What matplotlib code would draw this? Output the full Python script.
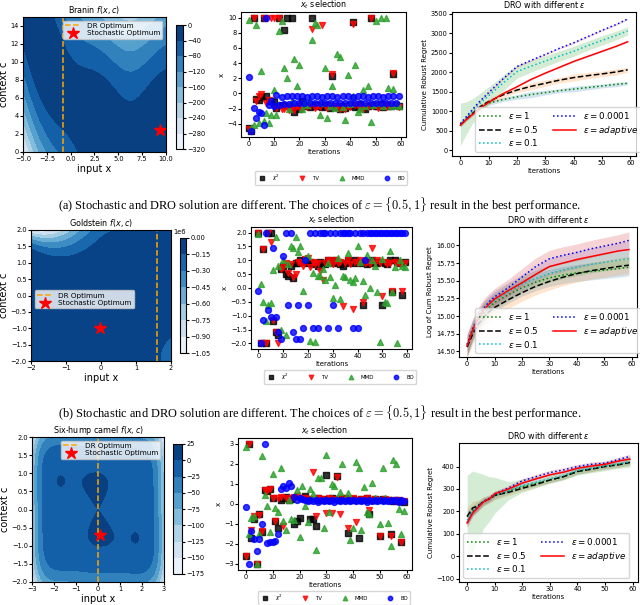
import numpy as np
import matplotlib
matplotlib.use("Agg")
from matplotlib import pyplot as plt

W, H = 640, 605

# ---------------- left column: negated test functions f(x, c) ----------------
def branin(x, c):
    b, cc, t = 5.1 / (4 * np.pi ** 2), 5 / np.pi, 1 / (8 * np.pi)
    return -((c - b * x ** 2 + cc * x - 6) ** 2 + 10 * (1 - t) * np.cos(x) + 10)


def goldstein(x, c):
    p1 = 1 + (x + c + 1) ** 2 * (19 - 14 * x + 3 * x ** 2 - 14 * c + 6 * x * c + 3 * c ** 2)
    p2 = 30 + (2 * x - 3 * c) ** 2 * (18 - 32 * x + 12 * x ** 2 + 48 * c - 36 * x * c + 27 * c ** 2)
    return -(p1 * p2)


def camel(x, c):
    return -((4 - 2.1 * x ** 2 + x ** 4 / 3) * x ** 2 + x * c + (-4 + 4 * c ** 2) * c ** 2)


dr_opt = [-0.8, 1.6, 0.0]
stoch_x = [9.42, -0.03, 0.09]
stoch_c = [2.47, -1.0, -0.71]

# ---------------- middle column: x_t selected per iteration ----------------
iters = np.arange(60)

b_chi2 = [-4.6, -5.0, 10.0, -0.7, -0.9, -0.5, 10.0, -0.4, -1.0, -1.0,
          -1.1, -1.9, 10.0, -1.5, 8.4, 10.0, -1.6, 10.0, -2.4, -1.7,
          -2.0, -1.0, -1.5, -1.6, -1.8, 10.0, -1.7, -1.5, -1.6, -1.8,
          -1.7, -1.5, -1.9, 2.3, -1.6, -1.8, -2.0, -1.7, -1.9, -1.6,
          -1.5, 9.4, -1.8, -1.6, -1.4, -1.8, -2.0, -1.6, 10.0, -1.5,
          -1.7, -1.6, -1.4, -1.8, -1.5, -1.6, -1.7, 2.6, -1.5, -1.6]
b_tv = [-4.7, -4.9, 10.0, -1.0, -0.4, -0.1, 10.0, -1.3, -0.9, 10.0,
        10.0, -1.9, 10.0, -2.1, -2.0, -1.6, -2.2, -1.8, -2.2, -1.7,
        -1.8, -2.0, -1.5, -1.8, -1.7, 8.5, -1.9, -1.6, -1.8, 9.0,
        -1.7, -1.9, -1.6, 2.6, -1.8, -1.7, -2.1, -1.9, -2.0, -1.6,
        -1.8, 9.2, -1.5, -1.7, -1.9, -2.1, -1.6, -1.8, 10.0, -1.7,
        -1.5, -1.9, -1.6, -1.7, -1.8, -1.5, -1.7, 2.7, -1.6, -1.8]
b_mmd = [9.7, -4.5, -4.2, 9.0, -3.9, 3.0, -3.7, -2.6, -3.9, -2.9,
         0.5, -2.8, 8.2, 9.6, 3.3, 2.0, -2.1, -1.0, 4.5, 1.0,
         3.7, -2.1, -1.2, -1.5, -0.9, 7.0, 9.3, 9.1, -2.8, -1.3,
         3.3, -3.2, -1.6, 1.0, -1.9, 5.2, 4.8, -1.8, -3.5, 2.5,
         -1.4, -0.3, 3.7, -2.5, -2.0, 0.5, -1.7, 1.0, -3.8, -1.5,
         9.5, -1.2, 10.0, -1.6, 10.0, 0.7, -1.7, 0.6, -1.5, -1.7]
b_bo = [2.2, -5.0, -1.9, -3.3, -2.5, -2.6, -4.1, 10.0, -1.5, -1.0,
        -1.6, -0.2, -1.5, -0.5, -1.4, -0.4, -1.4, -0.4, -1.3, -0.4,
        -1.3, -0.4, -1.3, -0.5, -1.2, -0.4, -1.3, -0.4, -1.3, -0.5,
        -1.3, -0.4, -1.2, -0.4, -1.3, -0.5, -1.3, -0.4, -1.3, -0.4,
        -1.2, -0.5, -1.3, -0.4, -1.3, -0.4, -1.3, -0.5, -1.2, -0.4,
        -1.3, -0.4, -1.3, -0.5, -1.3, -0.4, -1.2, -0.4, -1.3, -0.4]

g_chi2 = [2.0, -2.0, 1.4, -2.0, 2.0, 2.0, -1.2, -1.6, -1.7, 0.7,
          0.8, 0.5, 0.45, 0.8, 0.35, 0.9, 0.9, 1.0, 0.95, 1.0,
          0.9, 0.95, 0.85, 0.9, 0.8, 0.95, 0.9, 0.85, 1.0, 0.95,
          0.9, 1.0, 0.95, 0.85, 0.8, 0.9, 1.0, 0.95, 0.9, 1.0,
          0.95, 0.9, -0.6, 0.95, 0.85, 0.9, 1.0, 0.95, 0.9, 0.95,
          -0.6, 0.9, 0.85, 1.0, -0.15, 1.0, 0.95, 0.9, -0.25, 0.95]
g_tv = [2.0, -2.0, 1.4, -2.0, 2.0, 1.65, -1.15, -1.6, -2.0, 0.7,
        0.75, 0.9, 0.55, 0.85, 0.4, 0.5, 0.95, 0.9, 0.8, 1.05,
        1.1, 0.75, 0.95, 0.85, 0.9, 0.6, 0.3, 0.9, 1.0, 0.95,
        0.85, 1.0, 0.9, 0.95, -0.65, 0.9, 1.0, 0.85, -0.75, 0.95,
        0.9, 1.0, -0.5, 0.9, 0.95, 0.85, 1.45, 0.9, 1.0, 0.9,
        -0.3, 0.95, 0.85, 0.9, -0.1, 0.95, 0.9, 0.85, -0.1, 0.9]
g_mmd = [1.95, 0.15, -0.5, -1.2, -0.6, -0.55, 0.65, 1.85, 0.8, -1.5,
         1.0, -1.7, 0.85, 1.5, 1.45, 1.85, 1.3, 1.5, -0.1, 1.1,
         1.15, -1.9, 0.55, -1.95, 0.45, 0.45, 0.7, 0.3, 0.9, 0.4,
         -0.35, 0.1, 1.1, -0.4, 0.45, 0.4, 1.25, 0.3, 0.2, 0.35,
         1.5, 0.95, 0.25, -0.25, 1.2, 0.0, 1.0, 0.8, -0.15, -1.95,
         1.05, -0.5, -0.55, 1.35, -0.15, 0.75, -2.0, 1.0, 0.8, 0.75]
g_bo = [-0.1, -2.0, -1.15, 2.0, -0.8, -1.05, 1.45, -1.05, -1.6, -1.85,
        1.15, 2.0, -0.6, 2.0, -1.6, -1.85, -0.6, -1.85, -1.45, 1.0,
        -0.6, 2.0, -1.45, 2.0, -1.45, 2.0, 2.0, 2.0, -1.45, 2.0,
        -0.6, 2.0, -1.45, 2.0, 2.0, 2.0, 2.0, 2.0, -1.45, 2.0,
        -1.45, 2.0, 2.0, 1.0, 2.0, 2.0, 2.0, 2.0, 2.0, 2.0,
        2.0, 2.0, 2.0, 2.0, 2.0, 2.0, 2.0, 2.0, 2.0, 2.0]

c_chi2 = [-2.6, 3.0, -1.7, -0.75, -3.0, -0.5, -1.4, 0.7, 0.65, 0.75,
          0.3, -0.85, -1.2, 0.2, 0.3, 0.35, 0.2, 0.25, -1.0, -0.85,
          -0.7, 0.3, 0.4, 0.25, -0.75, -0.75, -1.1, 0.3, 0.2, 0.25,
          1.45, 0.2, 0.3, 0.25, 1.4, 0.2, 0.25, 0.3, -1.45, 0.2,
          0.25, 0.2, -1.7, 0.25, 0.2, 0.3, -0.5, 0.2, 0.25, 0.2,
          -1.6, 0.25, 0.2, 0.2, -1.5, 0.15, 0.2, 0.15, -1.9, 0.1]
c_tv = [-2.6, 3.0, -1.3, -0.6, -3.0, -0.55, -1.35, 0.7, 0.65, 0.75,
        0.3, -0.85, 0.3, 0.35, -1.1, 0.3, 0.2, 0.3, 0.35, 0.4,
        0.3, 0.25, 0.3, 0.2, 0.25, 1.6, -0.6, 0.3, 0.25, 0.2,
        -0.45, 0.3, -0.45, 0.25, 1.35, -0.5, 0.3, 0.2, -1.2, 0.25,
        0.3, -0.9, 0.2, 0.25, 0.2, 0.3, -0.3, 0.2, 0.25, 0.2,
        -1.6, 0.2, 0.25, 0.2, -1.6, 0.2, 0.15, 0.2, -1.9, 0.15]
c_mmd = [2.85, -1.5, -0.7, -0.6, -3.0, -1.5, 2.4, 0.45, -0.1, -1.4,
         1.5, -0.2, -0.4, 1.8, -0.85, -1.3, 0.2, -0.75, -0.8, 0.7,
         -1.65, 0.9, -0.1, -0.9, 0.75, 0.5, -2.3, 1.3, 1.3, -1.2,
         2.45, -0.4, 1.0, 0.9, 0.3, 0.6, 2.0, 0.2, 0.55, -1.8,
         -1.2, 2.1, 1.8, -1.3, 0.85, -0.4, -0.5, 1.05, 0.3, 0.2,
         -1.0, 1.8, 0.3, -0.95, -2.1, 2.2, 2.0, -0.25, -1.5, -0.35]
c_bo = [-0.15, -3.0, -1.35, -1.75, -2.35, -1.75, -1.0, 3.0, -1.95, -1.9,
        -1.9, -1.85, -1.5, 0.75, 0.9, 0.8, 1.05, 0.9, 0.35, 0.2,
        0.3, 0.25, 0.2, 0.15, 0.22, 0.15, 0.2, 0.12, 0.2, 0.15,
        0.18, 0.15, 0.2, 0.12, 0.2, 0.15, 0.22, 0.15, 0.2, 0.13,
        0.2, 0.15, 0.18, 0.15, 0.2, 0.12, 0.2, 0.15, 0.22, 0.15,
        0.2, 0.13, 0.2, 0.15, 0.18, 0.15, 0.2, 0.12, 0.2, 0.15]

# ---------------- right column: regret curves (mean, band half-width) ----------------
reg_it = [0, 2, 4, 6, 8, 10, 15, 20, 25, 30, 35, 40, 45, 50, 55, 59]
eps_labels = [r'$\epsilon = 1$', r'$\epsilon = 0.5$', r'$\epsilon = 0.1$',
              r'$\epsilon = 0.0001$', r'$\epsilon = adaptive$']

b_reg = [
    [650, 800, 930, 1050, 1140, 1210, 1300, 1370, 1430, 1480, 1530, 1570, 1610, 1650, 1690, 1720],
    [650, 790, 920, 1060, 1170, 1250, 1420, 1545, 1640, 1720, 1800, 1865, 1915, 1960, 2010, 2065],
    [660, 820, 980, 1130, 1270, 1400, 1720, 2020, 2160, 2290, 2420, 2540, 2690, 2820, 2950, 3065],
    [680, 850, 1020, 1190, 1340, 1480, 1830, 2150, 2310, 2460, 2620, 2760, 2920, 3080, 3230, 3370],
    [640, 780, 900, 1020, 1130, 1230, 1450, 1630, 1820, 1980, 2130, 2280, 2410, 2540, 2670, 2785],
]
b_band = [
    [50, 60, 60, 70, 60, 60, 50, 60, 80, 60, 50, 70, 60, 50, 60, 40],
    [60, 60, 70, 80, 60, 70, 80, 60, 90, 80, 70, 90, 80, 70, 80, 60],
    [550, 420, 330, 280, 250, 230, 200, 170, 150, 140, 130, 130, 120, 120, 110, 110],
    [20, 20, 20, 20, 20, 20, 20, 20, 20, 20, 20, 20, 20, 20, 20, 20],
    [20, 20, 20, 20, 20, 20, 20, 20, 20, 20, 20, 20, 20, 20, 20, 20],
]

g_reg = [
    [14.58, 14.78, 14.93, 15.04, 15.12, 15.19, 15.30, 15.40, 15.48, 15.54, 15.58, 15.61, 15.63, 15.65, 15.67, 15.69],
    [14.56, 14.74, 14.88, 14.98, 15.06, 15.12, 15.23, 15.33, 15.42, 15.49, 15.55, 15.60, 15.64, 15.67, 15.70, 15.72],
    [14.58, 14.79, 14.95, 15.07, 15.15, 15.22, 15.34, 15.45, 15.53, 15.60, 15.65, 15.69, 15.73, 15.76, 15.79, 15.81],
    [14.60, 14.82, 14.99, 15.11, 15.20, 15.27, 15.40, 15.55, 15.70, 15.81, 15.86, 15.90, 15.95, 15.99, 16.03, 16.07],
    [14.58, 14.80, 14.96, 15.08, 15.17, 15.24, 15.36, 15.47, 15.59, 15.70, 15.75, 15.80, 15.84, 15.88, 15.92, 15.94],
]
g_band = [
    [0.15, 0.14, 0.13, 0.13, 0.12, 0.12, 0.12, 0.12, 0.12, 0.12, 0.12, 0.12, 0.12, 0.12, 0.12, 0.12],
    [0.15, 0.14, 0.13, 0.13, 0.12, 0.12, 0.12, 0.12, 0.12, 0.12, 0.12, 0.12, 0.12, 0.12, 0.12, 0.12],
    [0.15, 0.14, 0.13, 0.13, 0.12, 0.12, 0.12, 0.12, 0.12, 0.12, 0.12, 0.12, 0.12, 0.12, 0.12, 0.12],
    [0.15, 0.14, 0.13, 0.13, 0.12, 0.12, 0.12, 0.12, 0.12, 0.12, 0.12, 0.12, 0.12, 0.12, 0.12, 0.12],
    [0.15, 0.14, 0.13, 0.13, 0.12, 0.12, 0.12, 0.12, 0.12, 0.12, 0.12, 0.12, 0.12, 0.12, 0.12, 0.12],
]

c_reg = [
    [175, 205, 225, 245, 255, 270, 290, 310, 325, 340, 355, 378, 390, 400, 410, 418],
    [178, 215, 225, 245, 255, 272, 285, 303, 320, 340, 355, 378, 388, 400, 408, 418],
    [160, 200, 222, 245, 255, 272, 292, 315, 330, 345, 360, 382, 392, 402, 412, 422],
    [150, 195, 220, 245, 258, 278, 305, 336, 355, 373, 385, 400, 410, 415, 432, 445],
    [148, 192, 218, 243, 255, 278, 300, 326, 345, 363, 375, 392, 402, 410, 425, 433],
]
c_band = [
    [30, 25, 20, 20, 15, 15, 12, 12, 12, 12, 12, 12, 12, 12, 12, 12],
    [40, 30, 25, 20, 20, 20, 15, 12, 12, 12, 12, 12, 12, 12, 12, 12],
    [200, 180, 150, 120, 100, 80, 40, 30, 25, 20, 20, 20, 20, 20, 20, 25],
    [20, 15, 15, 12, 12, 12, 10, 10, 10, 10, 10, 10, 10, 10, 10, 10],
    [20, 15, 15, 12, 12, 12, 10, 10, 10, 10, 10, 10, 10, 10, 10, 10],
]

line_styles = [('g', ':'), ('k', '--'), ('c', ':'), ('b', ':'), ('r', '-')]
band_colors = ['C0', 'C1', 'C2', 'C3', 'C4']

TICK = 4.8


def _box(fig, l, t, r, b):
    return fig.add_axes([l / W, 1 - b / H, (r - l) / W, (b - t) / H])


def _contour(fig, box, cbox, func, xr, cr, levels, title, k, leg_kw):
    ax = _box(fig, *box)
    cax = _box(fig, *cbox)
    X, C = np.meshgrid(np.linspace(*xr, 300), np.linspace(*cr, 300))
    cf = ax.contourf(X, C, func(X, C), levels=levels, cmap='Blues')
    ax.axvline(dr_opt[k], color='orange', ls='--', lw=1.1, label='DR Optimum')
    ax.plot(stoch_x[k], stoch_c[k], ls='none', marker='*', color='red', ms=9,
            label='Stochastic Optimum')
    ax.set_title(title, fontsize=5.8, pad=3)
    ax.set_xlabel('input x', fontsize=7, labelpad=1)
    ax.set_ylabel('context c', fontsize=7, labelpad=1)
    ax.tick_params(labelsize=TICK, length=2, pad=1)
    ax.legend(fontsize=5.2, handlelength=2.2, borderpad=0.3, labelspacing=0.2, **leg_kw)
    cb = fig.colorbar(cf, cax=cax, ticks=levels)
    cb.ax.tick_params(labelsize=TICK, length=2, pad=1)
    cb.ax.yaxis.get_offset_text().set_fontsize(TICK)
    return ax


def _selection(fig, box, series, yticks, leg_center):
    ax = _box(fig, *box)
    chi2, tv, mmd, bo = series
    ax.scatter(iters, chi2, marker='s', color='black', s=18, alpha=0.8, label=r'$\chi^2$')
    ax.scatter(iters, tv, marker='v', color='red', s=18, alpha=0.8, label='TV')
    ax.scatter(iters, mmd, marker='^', color='tab:green', s=18, alpha=0.8, label='MMD')
    ax.scatter(iters, bo, marker='o', color='blue', s=18, alpha=0.8, label='BO')
    ax.set_yticks(yticks)
    ax.set_xticks([0, 10, 20, 30, 40, 50, 60])
    ax.set_title(r'$x_t$ selection', fontsize=5.8, pad=3)
    ax.set_xlabel('Iterations', fontsize=5, labelpad=1)
    ax.set_ylabel('x', fontsize=5, labelpad=2)
    ax.tick_params(labelsize=TICK, length=2, pad=1)
    ax.legend(loc='center', bbox_to_anchor=(leg_center[0] / W, 1 - leg_center[1] / H),
              bbox_transform=fig.transFigure, ncol=4, fontsize=4, markerscale=0.75,
              columnspacing=3.0, handletextpad=0.8, borderpad=0.4)
    return ax


def _regret(fig, box, means, bands, ylabel, ylim, yticks, leg_corner):
    ax = _box(fig, *box)
    for m, s, (col, ls), bc, lab in zip(means, bands, line_styles, band_colors, eps_labels):
        m = np.array(m, dtype=float)
        s = np.array(s, dtype=float)
        ax.fill_between(reg_it, m - s, m + s, color=bc, alpha=0.2, lw=0)
        ax.plot(reg_it, m, color=col, ls=ls, lw=1.1, label=lab)
    ax.set_ylim(*ylim)
    ax.set_yticks(yticks)
    ax.set_xticks([0, 10, 20, 30, 40, 50, 60])
    ax.set_title(r'DRO with different $\epsilon$', fontsize=5.8, pad=3)
    ax.set_xlabel('Iterations', fontsize=5, labelpad=1)
    ax.set_ylabel(ylabel, fontsize=5, labelpad=2)
    ax.tick_params(labelsize=TICK, length=2, pad=1)
    ax.legend(loc='lower left', bbox_to_anchor=(leg_corner[0] / W, 1 - leg_corner[1] / H),
              bbox_transform=fig.transFigure, borderaxespad=0, ncol=2, fontsize=6.3,
              handlelength=2.6, columnspacing=1.6, labelspacing=0.3, borderpad=0.4)
    return ax


fig = plt.figure(figsize=(W / 100, H / 100), dpi=100)

# row (a): Branin
_contour(fig, (23, 17, 166, 152), (176, 25, 183, 149), branin, (-5, 10), (0, 15),
         [-320, -280, -240, -200, -160, -120, -80, -40, 0], r'Branin $f(x,c)$', 0,
         dict(loc='upper right'))
_selection(fig, (241, 12, 406, 137), (b_chi2, b_tv, b_mmd, b_bo),
           [-4, -2, 0, 2, 4, 6, 8, 10], (331, 178))
_regret(fig, (452, 12, 636, 156), b_reg, b_band, 'Cumulative Robust Regret',
        (-150, 3550), [0, 500, 1000, 1500, 2000, 2500, 3000, 3500], (475, 152))

# row (b): Goldstein
_contour(fig, (31, 230, 171, 361), (180, 238, 186, 353), goldstein, (-2, 2), (-2, 2),
         [-1.05e6, -0.9e6, -0.75e6, -0.6e6, -0.45e6, -0.3e6, -0.15e6, 0],
         r'Goldstein $f(x,c)$', 1, dict(loc='center left', bbox_to_anchor=(0.0, 0.47)))
_selection(fig, (251, 227, 412, 349), (g_chi2, g_tv, g_mmd, g_bo),
           [-2.0, -1.5, -1.0, -0.5, 0.0, 0.5, 1.0, 1.5, 2.0], (340, 377))
_regret(fig, (459, 227, 637, 357), g_reg, g_band, 'Log of Cum Robust Regret',
        (14.42, 16.26), [14.5, 14.75, 15.0, 15.25, 15.5, 15.75, 16.0], (475, 353))

# row (c): six-hump camel
_contour(fig, (32, 437, 164, 582), (173, 444, 182, 574), camel, (-3, 3), (-2, 2),
         [-175, -150, -125, -100, -75, -50, -25, 0, 25], r'Six-hump camel $f(x,c)$', 2,
         dict(loc='upper right'))
_selection(fig, (238, 438, 412, 570), (c_chi2, c_tv, c_mmd, c_bo),
           [-3, -2, -1, 0, 1, 2, 3], (334, 598))
_regret(fig, (459, 443, 638, 582), c_reg, c_band, 'Cumulative Robust Regret',
        (-115, 505), [-100, 0, 100, 200, 300, 400], (463, 578))

caption = (r'({}) Stochastic and DRO solution are different. The choices of '
           r'$\varepsilon = \{{0.5, 1\}}$ result in the best performance.')
for tag, y in (('a', 205), ('b', 413)):
    fig.text(0.5, 1 - y / H, caption.format(tag), ha='center', va='center',
             fontsize=8.9, family='Liberation Serif', math_fontfamily='cm')

fig.savefig('out.png', dpi=100)
